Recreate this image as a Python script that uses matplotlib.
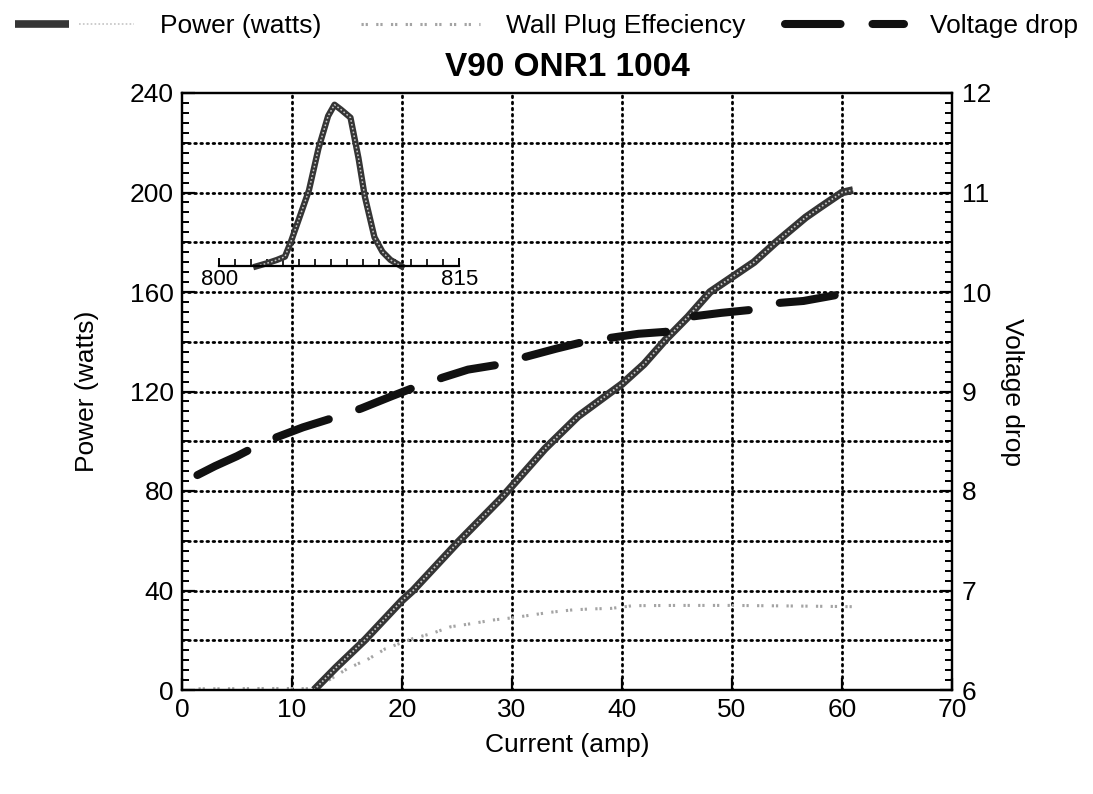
import matplotlib
matplotlib.use('Agg')
import matplotlib.pyplot as plt
from matplotlib.ticker import MultipleLocator, FixedLocator
from matplotlib.legend_handler import HandlerTuple
import numpy as np

plt.rcParams['font.family'] = ['Liberation Sans', 'DejaVu Sans']
plt.rcParams['lines.scale_dashes'] = False

# ---------------- data ----------------
title = 'V90 ONR1 1004'
x_label = 'Current (amp)'
left_label = 'Power (watts)'
right_label = 'Voltage drop'
legend_labels = ['Power (watts)', 'Wall Plug Effeciency', 'Voltage drop']

x_ticks = [0, 10, 20, 30, 40, 50, 60, 70]
left_ticks = [0, 40, 80, 120, 160, 200, 240]
right_ticks = [6, 7, 8, 9, 10, 11, 12]

power_current = [12.0, 14.0, 16.6, 20.0, 21.0, 25.0, 29.0, 30.0, 33.0, 36.0, 40.0,
                 42.0, 44.0, 46.0, 48.0, 50.0, 52.0, 54.0, 56.7, 58.0, 60.0, 61.0]
power_watts = [0, 9, 20, 36, 40, 59, 77, 82, 97, 110, 123,
               131, 141, 150, 160, 166, 172, 180, 190, 194, 200, 201]

eff_current = [1.5, 4.0, 7.0, 10.0, 12.0, 13.0, 15.0, 17.0, 18.5, 21.0, 22.7, 24.4,
               26.5, 28.2, 30.0, 31.7, 33.4, 35.5, 37.2, 39.0, 41.0, 45.0, 50.0,
               55.0, 61.0]
eff_percent = [0.5, 0.5, 0.6, 0.6, 0.5, 3.0, 8.5, 12.6, 16.6, 20.7, 22.7, 25.4,
               26.8, 28.1, 29.0, 30.1, 31.2, 32.2, 32.6, 32.8, 33.9, 34.0, 34.0,
               33.8, 33.5]

volt_current = [1.4, 3.0, 5.0, 6.4, 7.5, 8.6, 11.0, 13.9, 15.0, 16.3, 19.0, 21.1,
                22.5, 23.7, 26.0, 28.8, 30.0, 31.3, 34.0, 36.2, 37.5, 39.0, 41.5,
                44.0, 45.0, 46.1, 49.0, 51.7, 52.7, 53.7, 56.5, 59.5]
volt_drop = [8.16, 8.25, 8.35, 8.43, 8.48, 8.54, 8.64, 8.74, 8.78, 8.83, 8.95, 9.04,
             9.09, 9.14, 9.22, 9.27, 9.31, 9.35, 9.43, 9.49, 9.52, 9.54, 9.58,
             9.60, 9.67, 9.75, 9.79, 9.82, 9.85, 9.885, 9.91, 9.97]

spec_wavelength = [802.3, 803.0, 803.6, 804.1, 804.5, 805.0, 805.6, 806.2, 806.8,
                   807.2, 807.6, 808.2, 808.7, 809.1, 809.7, 810.2, 810.7, 811.4]
spec_intensity = [0.0, 0.02, 0.04, 0.06, 0.16, 0.30, 0.47, 0.73, 0.93,
                  1.0, 0.97, 0.92, 0.67, 0.43, 0.18, 0.09, 0.04, 0.0]
spec_ticks_labeled = [800, 815]

# ---------------- figure ----------------
W, H = 1093, 794
fig = plt.figure(figsize=(W / 100, H / 100), dpi=100)
ax = fig.add_axes([182 / W, (H - 690) / H, 770 / W, 597 / H])
ax.set_xlim(0, 70)
ax.set_ylim(0, 240)
ax2 = ax.twinx()
ax2.set_ylim(6, 12)

grid_kw = dict(color='black', lw=2.0, linestyle=(0, (1.2, 3.2)),
               dash_capstyle='round', zorder=0.5)
for xv in x_ticks[1:-1]:
    ax.axvline(xv, **grid_kw)
for yv in np.arange(20, 240, 20):
    ax.axhline(yv, **grid_kw)

# power line (textured band)
p1, = ax.plot(power_current, power_watts, color='#353535', lw=5.5,
              solid_capstyle='butt', zorder=3)
p2, = ax.plot(power_current, power_watts, color='#c8c8c8', lw=1.3,
              linestyle=(0, (1.2, 1.6)), zorder=3.1)

# wall plug efficiency (light paired dots)
e1, = ax.plot(eff_current, eff_percent, color='#a4a4a4', lw=2.2,
              linestyle=(0, (1.6, 1.4, 1.6, 6.0)), zorder=2)

# voltage drop (long thick dashes)
v1, = ax2.plot(volt_current, volt_drop, color='#111111', lw=5.8,
               linestyle=(0, (40.0, 23.0)), dash_capstyle='round', zorder=3)

for a in (ax, ax2):
    for s in a.spines.values():
        s.set_linewidth(1.6)

ax.xaxis.set_major_locator(FixedLocator(x_ticks))
ax.yaxis.set_major_locator(FixedLocator(left_ticks))
ax.yaxis.set_minor_locator(MultipleLocator(4))
ax2.yaxis.set_major_locator(FixedLocator(right_ticks))
ax2.yaxis.set_minor_locator(MultipleLocator(0.1))
ax.tick_params(axis='both', which='major', direction='in', length=9, width=1.6,
               labelsize=19, pad=6)
ax.tick_params(axis='y', which='minor', direction='in', length=5, width=1.4)
ax2.tick_params(axis='y', which='major', direction='in', length=9, width=1.6,
                labelsize=19, pad=7)
ax2.tick_params(axis='y', which='minor', direction='in', length=5, width=1.4)

ax.set_xlabel(x_label, fontsize=19, labelpad=8)
ax.set_ylabel(left_label, fontsize=19, labelpad=22)
ax2.set_ylabel(right_label, fontsize=19, rotation=270, labelpad=24)
ax.set_title(title, fontsize=24, fontweight='bold', pad=12)

# inset spectrum (positioned in main data coordinates)
ins = ax.inset_axes([3.4, 170.3, 21.8, 65], transform=ax.transData)
ins.patch.set_alpha(0)
ins.set_xlim(800, 815)
ins.set_ylim(0, 1.0)
for k in ('top', 'left', 'right'):
    ins.spines[k].set_visible(False)
ins.spines['bottom'].set_linewidth(1.6)
ins.set_yticks([])
ins.xaxis.set_major_locator(FixedLocator(spec_ticks_labeled))
ins.xaxis.set_minor_locator(MultipleLocator(1))
ins.tick_params(axis='x', which='major', direction='in', length=6, width=1.4,
                labelsize=16, pad=2)
ins.tick_params(axis='x', which='minor', direction='in', length=5, width=1.2)
ins.plot(spec_wavelength, spec_intensity, color='#353535', lw=4.5, clip_on=False)
ins.plot(spec_wavelength, spec_intensity, color='#c8c8c8', lw=1.1,
         linestyle=(0, (1.2, 1.6)), clip_on=False)

fig.legend([(p1, p2), e1, v1], legend_labels, loc='upper center',
           bbox_to_anchor=(0.5, 1.012), ncol=3, frameon=False, fontsize=19,
           handlelength=4.5, columnspacing=1.5, handletextpad=1.0,
           handler_map={tuple: HandlerTuple(ndivide=None)})

fig.savefig('out.png', dpi=100)
